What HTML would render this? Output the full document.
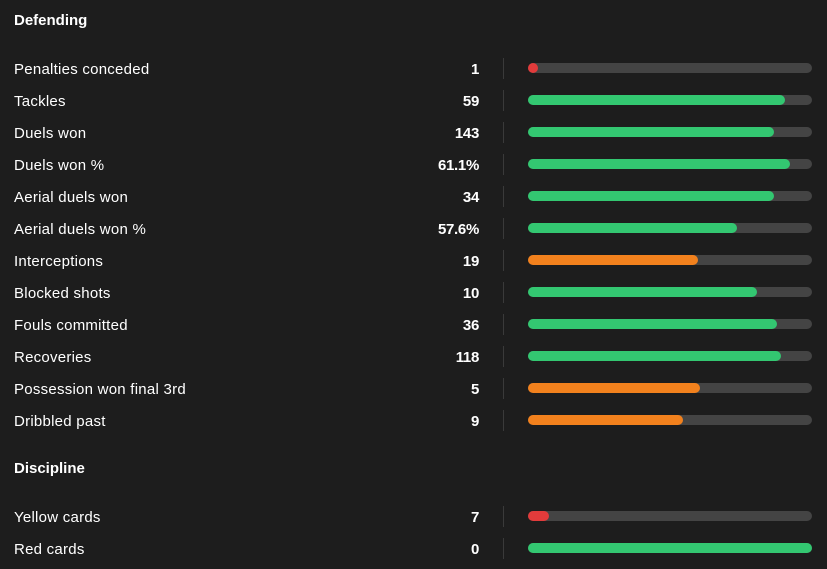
<!DOCTYPE html>
<html><head><style>
body{margin:0;width:827px;height:569px;background:#1d1d1d;font-family:"Liberation Sans",sans-serif;color:#fff;position:relative;overflow:hidden}
.h{position:absolute;left:14px;font-size:15px;font-weight:bold}
.r{position:absolute;left:0;width:827px;height:20px}
.l{position:absolute;left:14px;top:2px;font-size:15px;line-height:20px;letter-spacing:0.25px}
.v{position:absolute;right:348px;top:2px;font-size:15px;font-weight:bold;line-height:20px;letter-spacing:-0.3px}
.d{position:absolute;left:503px;top:0px;width:1px;height:21px;background:#3a3a3a}
.b{position:absolute;left:528px;top:5px;width:284px;height:10px;border-radius:5px;background:#444}
.f{position:absolute;left:0;top:0;height:10px;border-radius:5px}
.g{background:#33c771}.o{background:#f2811d}.x{background:#e23b3b}
</style></head><body>
<div class="h" style="top:12px">Defending</div>
<div class="r" style="top:58px"><div class="l">Penalties conceded</div><div class="v">1</div><div class="d"></div><div class="b"><div class="f x" style="width:10px"></div></div></div>
<div class="r" style="top:90px"><div class="l">Tackles</div><div class="v">59</div><div class="d"></div><div class="b"><div class="f g" style="width:257px"></div></div></div>
<div class="r" style="top:122px"><div class="l">Duels won</div><div class="v">143</div><div class="d"></div><div class="b"><div class="f g" style="width:246px"></div></div></div>
<div class="r" style="top:154px"><div class="l">Duels won %</div><div class="v">61.1%</div><div class="d"></div><div class="b"><div class="f g" style="width:262px"></div></div></div>
<div class="r" style="top:186px"><div class="l">Aerial duels won</div><div class="v">34</div><div class="d"></div><div class="b"><div class="f g" style="width:246px"></div></div></div>
<div class="r" style="top:218px"><div class="l">Aerial duels won %</div><div class="v">57.6%</div><div class="d"></div><div class="b"><div class="f g" style="width:209px"></div></div></div>
<div class="r" style="top:250px"><div class="l">Interceptions</div><div class="v">19</div><div class="d"></div><div class="b"><div class="f o" style="width:170px"></div></div></div>
<div class="r" style="top:282px"><div class="l">Blocked shots</div><div class="v">10</div><div class="d"></div><div class="b"><div class="f g" style="width:229px"></div></div></div>
<div class="r" style="top:314px"><div class="l">Fouls committed</div><div class="v">36</div><div class="d"></div><div class="b"><div class="f g" style="width:249px"></div></div></div>
<div class="r" style="top:346px"><div class="l">Recoveries</div><div class="v">118</div><div class="d"></div><div class="b"><div class="f g" style="width:253px"></div></div></div>
<div class="r" style="top:378px"><div class="l">Possession won final 3rd</div><div class="v">5</div><div class="d"></div><div class="b"><div class="f o" style="width:172px"></div></div></div>
<div class="r" style="top:410px"><div class="l">Dribbled past</div><div class="v">9</div><div class="d"></div><div class="b"><div class="f o" style="width:155px"></div></div></div>
<div class="h" style="top:460px">Discipline</div>
<div class="r" style="top:506px"><div class="l">Yellow cards</div><div class="v">7</div><div class="d"></div><div class="b"><div class="f x" style="width:21px"></div></div></div>
<div class="r" style="top:538px"><div class="l">Red cards</div><div class="v">0</div><div class="d"></div><div class="b"><div class="f g" style="width:284px"></div></div></div>
</body></html>
